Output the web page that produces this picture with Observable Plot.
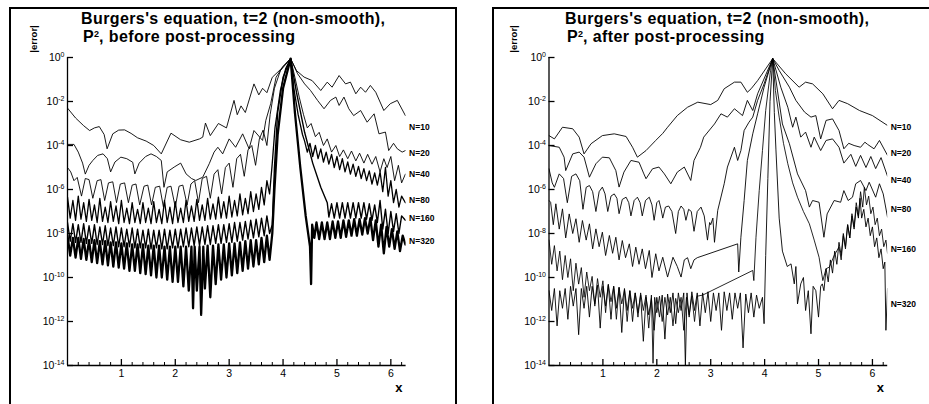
<!DOCTYPE html>
<html><head><meta charset="utf-8">
<script src="https://cdn.jsdelivr.net/npm/d3@7"></script>
<script src="https://cdn.jsdelivr.net/npm/@observablehq/plot@0.6"></script>
<style>
body{margin:0;width:929px;height:404px;overflow:hidden;background:#fff;position:relative;font-family:"Liberation Sans",Arial,Helvetica,sans-serif;}
.frame{position:absolute;border:2px solid #000;box-sizing:border-box;}
.title{position:absolute;font-weight:bold;font-size:16px;line-height:1.117;letter-spacing:0.4px;white-space:nowrap;color:#000;}
.title sup{font-size:9px;line-height:0;vertical-align:0;position:relative;top:-5px;letter-spacing:0;}
.ylab{position:absolute;width:40px;height:12px;font-weight:bold;font-size:9.5px;line-height:12px;text-align:center;white-space:nowrap;transform:rotate(-90deg);transform-origin:50% 50%;}
.wrap{position:absolute;top:0;height:404px;}
</style></head><body>
<div class="frame" style="left:9px;top:7px;width:448px;height:430px"></div>
<div class="frame" style="left:492px;top:7px;width:470px;height:430px"></div>
<div class="title" id="tL1" style="left:81px;top:10px"></div>
<div class="title" id="tL2" style="left:83px;top:28px"></div>
<div class="title" id="tR1" style="left:565px;top:10px"></div>
<div class="title" id="tR2" style="left:567px;top:28px"></div>
<div class="wrap" id="left" style="left:0;width:465px;"><div class="ylab" id="yL" style="left:13.5px;top:33px"></div></div>
<div class="wrap" id="right" style="left:470px;width:459px;"><div class="ylab" id="yR" style="left:24px;top:33px"></div></div>
<script>
// ---------------- data (x, log10|error|) ----------------
const titleLine1 = "Burgers's equation, t=2 (non-smooth),";
const titleLeft2 = ", before post-processing";
const titleRight2 = ", after post-processing";
const yAxisLabel = "|error|";
const xAxisLabel = "x";
const seriesNames = ["N=10","N=20","N=40","N=80","N=160","N=320"];
const yExpTicks = [0,-2,-4,-6,-8,-10,-12,-14];
const xMajorTicks = [1,2,3,4,5,6];
const xMinorTicks = [0.2,0.4,0.6,0.8,1.2,1.4,1.6,1.8,2.2,2.4,2.6,2.8,3.2,3.4,3.6,3.8,4.2,4.4,4.6,4.8,5.2,5.4,5.6,5.8,6.2];
const leftLabelExp = [-3.18,-4.36,-5.32,-6.5,-7.32,-8.36];
const rightLabelExp = [-3.18,-4.36,-5.56,-6.91,-8.7,-11.2];

// before post-processing
const bef10 = [[0,-2.3],[0.15,-2.75],[0.3,-3.1],[0.41,-3.32],[0.5,-3.2],[0.59,-3.14],[0.68,-3.5],[0.735,-4.15],[0.84,-3.47],[0.95,-3.3],[1.06,-3.29],[1.18,-3.45],[1.3,-3.65],[1.46,-3.8],[1.6,-4.0],[1.74,-4.38],[1.92,-3.44],[2.1,-3.74],[2.26,-3.85],[2.45,-3.7],[2.51,-3.62],[2.56,-2.98],[2.65,-3.55],[2.8,-3.0],[2.95,-3.2],[3.09,-1.95],[3.15,-2.6],[3.22,-2.2],[3.3,-2.5],[3.46,-1.2],[3.55,-1.7],[3.62,-1.4],[3.7,-1.6],[3.8,-0.9],[3.95,-0.55],[4.14,-0.05],[4.25,-0.6],[4.39,-0.89],[4.54,-1.05],[4.7,-1.5],[4.82,-1.12],[4.91,-1.35],[5.04,-0.82],[5.16,-1.2],[5.25,-1.12],[5.35,-1.65],[5.44,-1.35],[5.53,-1.58],[5.62,-1.27],[5.72,-1.58],[5.87,-2.41],[5.99,-2.1],[6.12,-1.95],[6.27,-2.64]];
const bef20 = [[0,-3.95],[0.12,-3.95],[0.2,-4.3],[0.28,-4.8],[0.33,-5.3],[0.4,-4.9],[0.47,-4.68],[0.56,-4.45],[0.66,-4.38],[0.74,-4.6],[0.8,-5.2],[0.88,-4.75],[0.99,-4.53],[1.1,-4.6],[1.21,-4.76],[1.25,-5.29],[1.33,-4.8],[1.45,-4.5],[1.55,-4.38],[1.65,-4.5],[1.74,-4.68],[1.79,-5.9],[1.85,-5.2],[1.98,-4.98],[2.1,-4.8],[2.2,-5.29],[2.3,-5.5],[2.38,-5.59],[2.51,-5.44],[2.63,-4.83],[2.72,-4.3],[2.79,-4.08],[2.88,-4.38],[3.0,-3.7],[3.12,-4.08],[3.25,-3.47],[3.37,-4.15],[3.46,-3.32],[3.62,-3.77],[3.68,-2.86],[3.77,-2.1],[3.87,-0.9],[4.0,-0.4],[4.14,-0.05],[4.27,-0.74],[4.4,-1.2],[4.51,-1.5],[4.64,-1.95],[4.76,-2.33],[4.88,-1.95],[4.98,-1.8],[5.04,-2.18],[5.13,-1.8],[5.22,-2.33],[5.31,-2.64],[5.44,-2.41],[5.56,-2.94],[5.69,-2.56],[5.78,-3.47],[5.9,-3.39],[5.96,-4.23],[6.05,-3.9],[6.12,-4.15],[6.21,-4.3],[6.27,-4.23]];
const bef40 = [[0,-5.0],[0.06,-5.2],[0.12,-5.6],[0.18,-5.45],[0.26,-6.3],[0.33,-5.5],[0.4,-5.55],[0.47,-6.4],[0.55,-5.6],[0.62,-5.55],[0.69,-6.5],[0.76,-5.7],[0.84,-5.65],[0.91,-6.6],[0.98,-5.75],[1.06,-5.7],[1.13,-6.6],[1.2,-5.8],[1.27,-5.75],[1.34,-6.7],[1.42,-5.85],[1.49,-5.8],[1.56,-6.7],[1.63,-5.9],[1.71,-5.85],[1.78,-6.8],[1.85,-5.9],[1.92,-5.85],[2.0,-6.8],[2.07,-5.85],[2.14,-5.8],[2.22,-6.7],[2.29,-5.75],[2.36,-5.6],[2.43,-6.6],[2.5,-5.5],[2.58,-5.4],[2.65,-6.4],[2.72,-5.3],[2.79,-5.1],[2.86,-6.2],[2.93,-5.0],[3.0,-4.8],[3.07,-5.9],[3.14,-4.6],[3.21,-4.4],[3.28,-5.4],[3.35,-4.2],[3.42,-4.0],[3.49,-4.9],[3.56,-3.7],[3.63,-3.3],[3.7,-4.0],[3.76,-2.6],[3.84,-1.4],[3.95,-0.6],[4.14,-0.05],[4.22,-0.9],[4.3,-1.8],[4.38,-2.6],[4.45,-3.2],[4.52,-3.0],[4.6,-3.6],[4.67,-3.4],[4.75,-4.0],[4.82,-3.7],[4.9,-4.3],[4.98,-4.0],[5.05,-4.5],[5.12,-4.2],[5.2,-4.6],[5.27,-4.25],[5.35,-4.7],[5.42,-4.35],[5.5,-4.8],[5.57,-4.4],[5.65,-4.85],[5.72,-4.5],[5.8,-5.2],[5.87,-4.6],[5.93,-5.0],[6.0,-4.5],[6.07,-5.6],[6.14,-4.9],[6.2,-5.7],[6.27,-5.3]];
const bef80 = [[0,-6.35],[0.05,-7.3],[0.1,-6.5],[0.15,-7.4],[0.2,-6.3],[0.25,-7.35],[0.3,-6.6],[0.35,-7.45],[0.4,-6.45],[0.45,-7.4],[0.5,-6.7],[0.55,-7.5],[0.6,-6.4],[0.65,-7.45],[0.7,-6.8],[0.75,-7.5],[0.8,-6.55],[0.85,-7.45],[0.9,-6.75],[0.95,-7.55],[1.0,-6.5],[1.05,-7.5],[1.1,-6.85],[1.15,-7.55],[1.2,-6.6],[1.25,-7.5],[1.3,-6.9],[1.35,-7.55],[1.4,-6.6],[1.45,-7.5],[1.5,-6.85],[1.55,-7.55],[1.6,-6.55],[1.65,-7.5],[1.7,-6.9],[1.75,-7.55],[1.8,-6.5],[1.85,-7.5],[1.9,-6.8],[1.95,-7.55],[2.0,-6.55],[2.05,-7.5],[2.1,-6.85],[2.15,-7.5],[2.2,-6.5],[2.25,-7.45],[2.3,-6.75],[2.35,-7.45],[2.4,-6.45],[2.45,-7.4],[2.5,-6.7],[2.55,-7.4],[2.6,-6.4],[2.65,-7.35],[2.7,-6.65],[2.75,-7.35],[2.8,-6.35],[2.85,-7.3],[2.9,-6.55],[2.95,-7.3],[3.0,-6.3],[3.05,-7.25],[3.1,-6.5],[3.15,-7.2],[3.2,-6.2],[3.25,-7.15],[3.3,-6.4],[3.35,-7.1],[3.4,-6.1],[3.45,-7.0],[3.5,-6.2],[3.55,-6.9],[3.6,-5.9],[3.65,-6.7],[3.7,-5.6],[3.75,-6.2],[3.8,-4.8],[3.85,-3.2],[3.95,-1.5],[4.05,-0.5],[4.14,-0.05],[4.2,-1.4],[4.28,-2.6],[4.36,-3.5],[4.4,-3.8],[4.45,-4.3],[4.5,-3.9],[4.55,-4.5],[4.6,-4.0],[4.65,-4.6],[4.7,-4.15],[4.75,-4.75],[4.8,-4.3],[4.85,-4.85],[4.9,-4.4],[4.95,-5.0],[5.0,-4.5],[5.05,-5.1],[5.1,-4.6],[5.15,-5.2],[5.2,-4.75],[5.25,-5.3],[5.3,-4.85],[5.35,-5.4],[5.4,-4.95],[5.45,-5.5],[5.5,-5.05],[5.55,-5.6],[5.6,-5.15],[5.65,-5.75],[5.7,-5.25],[5.75,-5.8],[5.8,-5.2],[5.85,-6.1],[5.9,-5.0],[5.95,-6.3],[6.0,-5.6],[6.05,-6.6],[6.1,-6.0],[6.15,-6.8],[6.2,-6.3],[6.27,-6.6]];
const bef160 = [[0,-7.5],[0.05,-8.35],[0.1,-7.55],[0.15,-8.4],[0.2,-7.6],[0.25,-8.4],[0.3,-7.55],[0.35,-8.45],[0.4,-7.65],[0.45,-8.45],[0.5,-7.6],[0.55,-8.5],[0.6,-7.7],[0.65,-8.5],[0.7,-7.65],[0.75,-8.55],[0.8,-7.75],[0.85,-8.55],[0.9,-7.7],[0.95,-8.6],[1.0,-7.75],[1.05,-8.6],[1.1,-7.8],[1.15,-8.6],[1.2,-7.75],[1.25,-8.65],[1.3,-7.8],[1.35,-8.65],[1.4,-7.85],[1.45,-8.65],[1.5,-7.8],[1.55,-8.7],[1.6,-7.85],[1.65,-8.65],[1.7,-7.85],[1.75,-8.7],[1.8,-7.8],[1.85,-8.7],[1.9,-7.85],[1.95,-8.65],[2.0,-7.8],[2.05,-8.65],[2.1,-7.8],[2.15,-8.6],[2.2,-7.75],[2.25,-8.6],[2.3,-7.75],[2.35,-8.55],[2.4,-7.7],[2.45,-8.55],[2.5,-7.7],[2.55,-8.5],[2.6,-7.65],[2.65,-8.5],[2.7,-7.65],[2.75,-8.45],[2.8,-7.6],[2.85,-8.45],[2.9,-7.6],[2.95,-8.4],[3.0,-7.55],[3.05,-8.4],[3.1,-7.5],[3.15,-8.35],[3.2,-7.5],[3.25,-8.3],[3.3,-7.45],[3.35,-8.25],[3.4,-7.4],[3.45,-8.2],[3.5,-7.35],[3.55,-8.15],[3.6,-7.3],[3.65,-8.1],[3.7,-7.2],[3.75,-8.0],[3.8,-7.6],[3.84,-5.0],[3.9,-2.5],[4.0,-0.9],[4.14,-0.05],[4.25,-1.6],[4.4,-3.4],[4.55,-4.8],[4.7,-5.9],[4.82,-6.6],[4.85,-7.25],[4.9,-6.65],[4.95,-7.3],[5.0,-6.6],[5.05,-7.3],[5.1,-6.6],[5.15,-7.3],[5.2,-6.6],[5.25,-7.3],[5.3,-6.6],[5.35,-7.3],[5.4,-6.6],[5.45,-7.3],[5.5,-6.6],[5.55,-7.35],[5.6,-6.65],[5.65,-7.4],[5.7,-6.7],[5.75,-7.5],[5.8,-6.5],[5.85,-7.8],[5.9,-6.9],[5.95,-8.0],[6.0,-7.0],[6.05,-7.9],[6.1,-7.1],[6.15,-8.0],[6.2,-7.2],[6.27,-7.4]];
const bef320 = [[0,-8.1],[0.05,-9.0],[0.1,-8.2],[0.15,-9.1],[0.2,-8.2],[0.25,-9.15],[0.3,-8.25],[0.35,-9.2],[0.4,-8.3],[0.45,-9.3],[0.5,-8.3],[0.55,-9.35],[0.6,-8.35],[0.65,-9.4],[0.7,-8.35],[0.75,-9.45],[0.8,-8.4],[0.85,-9.5],[0.9,-8.4],[0.95,-9.55],[1.0,-8.45],[1.05,-9.6],[1.1,-8.45],[1.15,-9.7],[1.2,-8.5],[1.25,-9.7],[1.3,-8.5],[1.35,-9.8],[1.4,-8.5],[1.45,-9.85],[1.5,-8.55],[1.55,-9.9],[1.6,-8.55],[1.65,-10.0],[1.7,-8.55],[1.75,-10.0],[1.8,-8.6],[1.85,-10.1],[1.9,-8.6],[1.95,-10.2],[2.0,-8.6],[2.05,-10.2],[2.1,-8.6],[2.15,-10.4],[2.2,-8.6],[2.25,-10.6],[2.3,-8.6],[2.33,-11.4],[2.36,-8.6],[2.4,-10.6],[2.45,-8.6],[2.48,-11.7],[2.52,-8.6],[2.55,-10.5],[2.6,-8.55],[2.65,-10.9],[2.7,-8.55],[2.75,-10.3],[2.8,-8.5],[2.85,-10.1],[2.9,-8.5],[2.95,-10.0],[3.0,-8.45],[3.05,-9.9],[3.1,-8.45],[3.15,-9.8],[3.2,-8.4],[3.25,-9.7],[3.3,-8.35],[3.35,-9.6],[3.4,-8.3],[3.45,-9.5],[3.5,-8.3],[3.55,-9.4],[3.6,-8.2],[3.65,-9.3],[3.7,-8.1],[3.75,-9.2],[3.8,-8.0],[3.84,-6.0],[3.9,-3.5],[4.0,-1.4],[4.14,-0.05],[4.22,-2.5],[4.32,-5.0],[4.42,-7.2],[4.5,-8.6],[4.52,-10.3],[4.54,-7.6],[4.58,-8.2],[4.62,-7.5],[4.67,-8.25],[4.72,-7.5],[4.77,-8.25],[4.82,-7.5],[4.87,-8.25],[4.92,-7.45],[4.97,-8.2],[5.02,-7.45],[5.07,-8.2],[5.12,-7.4],[5.17,-8.15],[5.22,-7.4],[5.27,-8.1],[5.32,-7.35],[5.37,-8.1],[5.42,-7.35],[5.47,-8.05],[5.52,-7.3],[5.57,-8.0],[5.62,-7.3],[5.67,-8.3],[5.72,-7.4],[5.77,-8.6],[5.82,-7.6],[5.87,-8.9],[5.92,-7.7],[5.97,-8.6],[6.02,-7.8],[6.07,-8.7],[6.12,-7.9],[6.17,-8.8],[6.22,-8.1],[6.27,-8.5]];

// after post-processing
const aft10 = [[0,-3.55],[0.1,-3.7],[0.25,-3.17],[0.44,-3.24],[0.56,-3.62],[0.65,-4.38],[0.78,-3.92],[0.99,-3.55],[1.21,-3.47],[1.43,-3.59],[1.55,-4.08],[1.64,-4.53],[1.8,-4.23],[1.98,-3.77],[2.11,-3.45],[2.2,-3.17],[2.38,-2.64],[2.57,-2.26],[2.76,-2.03],[3.0,-2.14],[3.13,-1.95],[3.25,-1.42],[3.44,-1.12],[3.56,-1.12],[3.68,-1.58],[3.75,-1.42],[3.87,-1.05],[4.15,-0.05],[4.39,-0.74],[4.64,-1.35],[4.76,-1.12],[4.89,-1.2],[5.08,-1.65],[5.26,-2.33],[5.38,-1.95],[5.54,-2.1],[5.76,-2.41],[6.0,-2.64],[6.28,-3.09]];
const aft20 = [[0,-4.0],[0.19,-4.08],[0.28,-4.53],[0.31,-5.14],[0.44,-4.38],[0.56,-4.3],[0.65,-4.53],[0.75,-5.44],[0.87,-4.83],[0.99,-4.53],[1.12,-4.56],[1.24,-5.14],[1.3,-5.89],[1.39,-5.21],[1.52,-4.68],[1.67,-4.76],[1.76,-5.29],[1.8,-5.51],[1.92,-5.06],[2.04,-4.98],[2.14,-5.29],[2.26,-5.74],[2.38,-5.21],[2.51,-4.98],[2.63,-5.59],[2.69,-4.68],[2.81,-4.08],[2.87,-3.62],[3.07,-3.02],[3.19,-2.56],[3.31,-2.71],[3.44,-2.33],[3.59,-2.64],[3.68,-1.95],[3.78,-2.41],[3.87,-1.65],[4.15,-0.05],[4.27,-0.59],[4.46,-1.35],[4.58,-1.95],[4.74,-2.48],[4.86,-2.71],[4.95,-2.64],[5.04,-3.7],[5.14,-2.86],[5.26,-2.79],[5.38,-3.32],[5.47,-4.15],[5.56,-3.9],[5.66,-4.0],[5.78,-4.08],[5.86,-3.85],[5.91,-3.95],[6.03,-4.15],[6.13,-3.77],[6.28,-4.45]];
const aft40 = [[0,-5.06],[0.06,-5.7],[0.1,-5.9],[0.19,-5.29],[0.27,-5.5],[0.34,-6.6],[0.42,-5.4],[0.5,-5.29],[0.57,-5.6],[0.63,-6.9],[0.69,-5.9],[0.75,-5.82],[0.81,-6.1],[0.87,-7.0],[0.93,-6.1],[0.99,-5.89],[1.04,-6.2],[1.09,-7.0],[1.15,-6.3],[1.21,-6.2],[1.26,-6.4],[1.3,-7.1],[1.36,-6.45],[1.43,-6.35],[1.48,-6.6],[1.52,-7.2],[1.58,-6.5],[1.64,-6.35],[1.69,-6.6],[1.73,-7.2],[1.79,-6.5],[1.86,-6.35],[1.91,-6.7],[1.95,-7.4],[2.0,-6.6],[2.04,-6.5],[2.08,-6.9],[2.11,-7.3],[2.16,-6.8],[2.22,-6.75],[2.28,-7.0],[2.35,-8.0],[2.4,-7.0],[2.45,-6.75],[2.5,-6.9],[2.54,-7.4],[2.59,-6.9],[2.64,-7.0],[2.69,-7.9],[2.75,-7.0],[2.82,-6.8],[2.88,-7.2],[2.94,-8.3],[2.98,-7.5],[3.0,-7.6],[3.04,-7.3],[3.07,-8.4],[3.13,-6.95],[3.25,-5.74],[3.31,-4.98],[3.44,-4.08],[3.5,-4.68],[3.56,-4.23],[3.62,-3.32],[3.71,-2.94],[3.78,-2.71],[3.87,-1.95],[3.99,-1.2],[4.15,-0.05],[4.3,-1.35],[4.43,-2.26],[4.52,-3.17],[4.58,-2.71],[4.67,-3.62],[4.76,-3.39],[4.86,-4.08],[4.92,-3.62],[5.04,-4.23],[5.14,-3.77],[5.26,-3.7],[5.38,-4.08],[5.47,-4.8],[5.6,-4.4],[5.69,-4.95],[5.78,-4.45],[5.88,-5.0],[5.97,-4.5],[6.06,-5.05],[6.16,-4.55],[6.28,-5.4]];
const aft80 = [[0,-6.5],[0.03,-6.58],[0.08,-7.6],[0.127,-6.65],[0.19,-7.8],[0.25,-6.88],[0.31,-8.2],[0.375,-7.11],[0.44,-8.0],[0.5,-7.33],[0.56,-8.4],[0.62,-7.41],[0.69,-8.3],[0.75,-7.56],[0.81,-8.7],[0.87,-7.79],[0.93,-8.6],[0.99,-7.94],[1.05,-9.0],[1.12,-8.09],[1.18,-8.9],[1.24,-8.17],[1.3,-9.2],[1.36,-8.32],[1.42,-9.1],[1.49,-8.47],[1.55,-9.5],[1.61,-8.62],[1.67,-9.4],[1.73,-8.7],[1.79,-9.6],[1.86,-8.77],[1.91,-10.0],[1.98,-8.92],[2.04,-9.7],[2.11,-9.08],[2.2,-9.98],[2.3,-9.08],[2.38,-9.5],[2.45,-9.98],[2.51,-9.2],[2.57,-9.1],[2.63,-9.6],[2.69,-9.2],[2.75,-9.1],[3.5,-8.47],[3.52,-9.75],[3.56,-8.17],[3.62,-6.5],[3.68,-4.68],[3.78,-3.47],[3.87,-2.56],[3.99,-1.35],[4.15,-0.05],[4.33,-3.02],[4.46,-3.92],[4.61,-5.29],[4.76,-6.05],[4.83,-6.8],[4.89,-6.5],[5.01,-6.58],[5.1,-8.17],[5.16,-7.11],[5.29,-6.5],[5.41,-6.58],[5.47,-6.05],[5.55,-6.5],[5.63,-6.35],[5.69,-5.74],[5.78,-5.59],[5.88,-6.05],[5.94,-5.67],[6.06,-6.35],[6.13,-5.74],[6.2,-6.2],[6.28,-7.26]];
const aft160 = [[0,-8.3],[0.05,-9.4],[0.1,-8.55],[0.15,-9.7],[0.2,-8.8],[0.25,-10.1],[0.3,-9.0],[0.35,-10.0],[0.4,-9.15],[0.45,-10.6],[0.5,-9.35],[0.55,-10.3],[0.6,-9.55],[0.65,-10.9],[0.7,-9.75],[0.75,-10.6],[0.8,-9.95],[0.85,-11.3],[0.9,-10.05],[0.95,-10.9],[1.0,-10.15],[1.05,-11.6],[1.1,-10.3],[1.15,-11.1],[1.2,-10.4],[1.25,-11.9],[1.3,-10.45],[1.35,-11.2],[1.4,-10.55],[1.45,-12.0],[1.5,-10.6],[1.55,-11.4],[1.6,-10.7],[1.65,-11.8],[1.7,-10.7],[1.75,-11.5],[1.8,-10.8],[1.85,-12.3],[1.9,-10.8],[1.93,-13.9],[1.96,-10.9],[2.0,-11.6],[2.05,-10.85],[2.1,-12.0],[2.15,-10.9],[2.2,-11.7],[2.25,-10.9],[2.3,-12.2],[2.35,-10.95],[2.4,-11.6],[2.45,-10.9],[2.5,-12.4],[2.55,-10.9],[2.6,-11.7],[2.65,-10.85],[2.7,-12.0],[2.75,-10.85],[2.85,-10.8],[3.78,-9.68],[3.8,-10.14],[3.84,-8.17],[3.9,-6.05],[3.96,-4.23],[4.02,-2.41],[4.11,-0.59],[4.15,-0.05],[4.2,-1.5],[4.27,-2.71],[4.35,-3.9],[4.43,-4.83],[4.52,-5.7],[4.61,-6.35],[4.72,-7.0],[4.83,-7.56],[4.92,-8.3],[5.01,-9.08],[5.08,-10.14],[5.14,-9.6],[5.2,-9.53],[5.29,-9.0],[5.38,-8.62],[5.42,-9.2],[5.46,-8.1],[5.5,-8.7],[5.54,-7.6],[5.58,-8.2],[5.62,-7.1],[5.66,-7.7],[5.7,-6.6],[5.74,-7.2],[5.78,-6.1],[5.82,-6.8],[5.85,-5.9],[5.89,-6.7],[5.93,-6.3],[5.97,-7.1],[6.01,-6.8],[6.05,-7.6],[6.09,-7.3],[6.13,-8.1],[6.17,-7.8],[6.21,-8.6],[6.25,-8.3],[6.28,-8.9]];
const aft320 = [[0,-10.6],[0.05,-11.5],[0.1,-10.5],[0.15,-12.2],[0.2,-10.6],[0.25,-11.4],[0.3,-10.5],[0.35,-11.9],[0.4,-10.4],[0.45,-11.3],[0.5,-10.5],[0.55,-12.6],[0.6,-10.5],[0.65,-11.4],[0.7,-10.4],[0.75,-11.8],[0.8,-10.4],[0.85,-11.2],[0.9,-10.35],[0.95,-12.3],[1.0,-10.4],[1.05,-11.3],[1.1,-10.35],[1.15,-11.9],[1.2,-10.4],[1.25,-11.4],[1.3,-10.45],[1.35,-12.5],[1.4,-10.5],[1.45,-11.5],[1.5,-10.6],[1.55,-12.0],[1.6,-10.7],[1.65,-11.6],[1.7,-10.8],[1.75,-12.9],[1.8,-10.9],[1.85,-11.7],[1.9,-10.95],[1.95,-12.4],[2.0,-10.9],[2.05,-11.8],[2.1,-10.8],[2.15,-12.8],[2.2,-10.75],[2.25,-11.6],[2.3,-10.7],[2.35,-12.1],[2.4,-10.7],[2.45,-11.5],[2.5,-10.7],[2.53,-14.0],[2.56,-10.7],[2.6,-11.8],[2.65,-10.65],[2.7,-11.5],[2.75,-10.7],[2.8,-12.2],[2.85,-10.7],[2.9,-11.6],[2.95,-10.65],[3.0,-12.0],[3.05,-10.7],[3.1,-11.5],[3.15,-10.7],[3.2,-12.4],[3.25,-10.65],[3.3,-11.5],[3.35,-10.7],[3.4,-11.9],[3.45,-10.7],[3.5,-11.4],[3.55,-10.7],[3.6,-13.2],[3.65,-10.75],[3.7,-11.6],[3.75,-10.7],[3.8,-11.8],[3.85,-10.8],[3.9,-11.4],[3.96,-10.9],[3.99,-12.1],[4.02,-9.0],[4.06,-5.5],[4.1,-2.0],[4.15,-0.05],[4.18,-2.5],[4.21,-4.2],[4.27,-7.3],[4.33,-8.8],[4.42,-9.5],[4.49,-9.38],[4.55,-10.29],[4.58,-9.5],[4.61,-11.2],[4.67,-10.29],[4.72,-10.0],[4.76,-11.5],[4.81,-10.6],[4.86,-12.56],[4.9,-10.4],[4.95,-10.6],[5.0,-11.8],[5.04,-10.4],[5.07,-10.29],[5.1,-10.6],[5.14,-9.6],[5.18,-10.2],[5.22,-9.2],[5.26,-9.8],[5.3,-8.8],[5.34,-9.4],[5.38,-8.4],[5.42,-9.0],[5.46,-8.0],[5.5,-8.6],[5.54,-7.6],[5.58,-8.2],[5.62,-7.2],[5.66,-7.8],[5.7,-6.8],[5.74,-7.3],[5.77,-6.4],[5.8,-7.3],[5.84,-6.9],[5.88,-7.7],[5.92,-7.3],[5.96,-8.1],[6.0,-7.7],[6.04,-8.6],[6.08,-8.2],[6.12,-9.1],[6.16,-8.7],[6.2,-9.6],[6.23,-9.3],[6.25,-12.4],[6.28,-10.5]];

const leftSeries = [bef10, bef20, bef40, bef80, bef160, bef320];
const rightSeries = [aft10, aft20, aft40, aft80, aft160, aft320];
const leftWidths = [0.9, 0.9, 0.9, 1.3, 1.4, 2.3];
const rightWidths = [0.9, 0.9, 0.9, 0.9, 0.85, 0.9];

// ---------------- titles & axis names ----------------
function setTitle(id1, id2, sub) {
  document.getElementById(id1).textContent = titleLine1;
  const l2 = document.getElementById(id2);
  l2.innerHTML = "P<sup>2</sup>";
  l2.appendChild(document.createTextNode(sub));
}
setTitle("tL1", "tL2", titleLeft2);
setTitle("tR1", "tR2", titleRight2);
document.getElementById("yL").textContent = yAxisLabel;
document.getElementById("yR").textContent = yAxisLabel;

// ---------------- panels ----------------
const XMAX = 2 * Math.PI;
const YMIN = 1e-14, YMAX = 1;
function panel(series, widths, labelExp, o) {
  const lines = series.map((s, i) => Plot.line(s, {
    x: d => d[0], y: d => Math.pow(10, d[1]),
    stroke: "#000", strokeWidth: widths[i], clip: true
  }));
  const labels = seriesNames.map((n, i) => ({name: n, e: labelExp[i]}));
  const svg = Plot.plot({
    width: o.width, height: 404,
    marginLeft: o.ml, marginRight: o.mr, marginTop: 57, marginBottom: 39,
    style: {background: "transparent", overflow: "visible", fontFamily: "'Liberation Sans', Arial, sans-serif"},
    x: {domain: [0, XMAX], label: null},
    y: {type: "log", domain: [YMIN, YMAX], label: null},
    marks: [
      ...lines,
      Plot.ruleX([0], {y1: YMIN, y2: YMAX, stroke: "#000", strokeWidth: 1.3}),
      Plot.ruleY([YMIN], {x1: 0, x2: XMAX, stroke: "#000", strokeWidth: 1.3}),
      Plot.axisY(yExpTicks.map(e => Math.pow(10, e)), {tickSize: -6, tickFormat: () => "", strokeWidth: 1.3}),
      Plot.axisY(yExpTicks.map(e => Math.pow(10, e)), {tickSize: 0, tickPadding: 3, fontSize: 10.5,
        tickFormat: v => "10^" + Math.round(Math.log10(v))}),
      Plot.axisX(xMajorTicks, {tickSize: -6, tickFormat: () => "", strokeWidth: 1.3}),
      Plot.axisX(xMinorTicks, {tickSize: -3, tickFormat: () => ""}),
      Plot.axisX(xMajorTicks, {tickSize: 0, tickPadding: 4, fontSize: 10.5}),
      Plot.text(labels, {x: XMAX, y: d => Math.pow(10, d.e), text: "name", textAnchor: "start", dx: 3,
        fontWeight: "bold", fontSize: 8.5}),
      Plot.text([xAxisLabel], {frameAnchor: "bottom-right", dx: -7.3, dy: 22,
        textAnchor: "middle", lineAnchor: "middle", fontWeight: "bold", fontSize: 13})
    ]
  });
  svg.style.position = "absolute";
  svg.style.left = "0px";
  svg.style.top = "0px";
  svg.querySelectorAll("text").forEach(t => {
    const m = t.textContent.match(/^10\^(-?\d+)$/);
    if (!m) return;
    t.textContent = "10";
    const ts = document.createElementNS("http://www.w3.org/2000/svg", "tspan");
    ts.setAttribute("dy", "-0.55em");
    ts.setAttribute("font-size", "7");
    ts.textContent = m[1];
    t.appendChild(ts);
  });
  return svg;
}
document.getElementById("left").appendChild(panel(leftSeries, leftWidths, leftLabelExp, {width: 465, ml: 67, mr: 59.4}));
document.getElementById("right").appendChild(panel(rightSeries, rightWidths, rightLabelExp, {width: 459, ml: 78.5, mr: 41.8}));
</script>
</body></html>
